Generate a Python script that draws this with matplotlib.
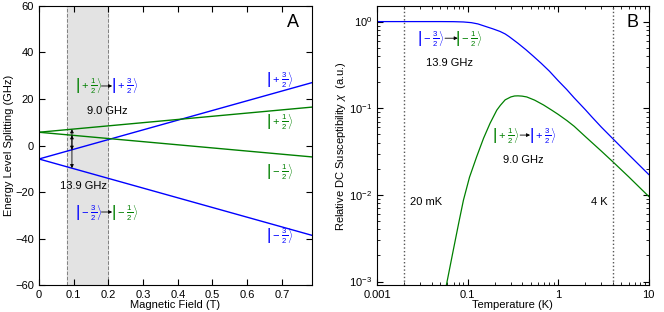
import numpy as np
import matplotlib
matplotlib.use("Agg")
import matplotlib.pyplot as plt

plt.rcParams['font.family'] = ['Liberation Sans', 'DejaVu Sans']
plt.rcParams['mathtext.fontset'] = 'custom'
plt.rcParams['mathtext.rm'] = 'Liberation Sans'
plt.rcParams['mathtext.it'] = 'Liberation Sans:italic'
plt.rcParams['mathtext.bf'] = 'Liberation Sans:bold'
plt.rcParams['font.size'] = 8

BLUE = '#0000ff'
GREEN = '#008000'

# panel A: Zeeman levels (straight lines, read at B=0 and right edge)
field = [0.0, 0.786]
level_p32 = [-5.8, 27.0]
level_p12 = [5.7, 16.5]
level_m12 = [5.7, -4.9]
level_m32 = [-5.8, -38.6]
shade_range = [0.08, 0.2]
arrow_field = 0.095

# panel B: relative susceptibility vs temperature
temp_blue = [0.01, 0.05, 0.07, 0.09, 0.11, 0.13, 0.16, 0.19, 0.228, 0.26, 0.288, 0.36,
             0.44, 0.53, 0.65, 0.8, 1.0, 1.24, 1.5, 2.0, 2.34, 3.0, 4.0, 6.0, 10.0]
chi_blue = [1.0, 1.0, 0.998, 0.99, 0.972, 0.94, 0.875, 0.825, 0.77, 0.72, 0.67, 0.562,
            0.474, 0.40, 0.33, 0.268, 0.208, 0.165, 0.132, 0.096, 0.080, 0.0605, 0.0447,
            0.0292, 0.0172]
temp_green = [0.057, 0.0588, 0.0695, 0.08, 0.09, 0.105, 0.126, 0.15, 0.177, 0.21, 0.23,
              0.26, 0.3, 0.33, 0.36, 0.4, 0.45, 0.55, 0.69, 0.85, 1.0, 1.25, 1.5, 2.0,
              3.0, 4.0, 6.0, 10.0]
chi_green = [0.0008, 0.00095, 0.0023, 0.0048, 0.0087, 0.016, 0.0276, 0.045, 0.067, 0.095,
             0.108, 0.125, 0.135, 0.1385, 0.139, 0.138, 0.135, 0.124, 0.109, 0.095,
             0.085, 0.072, 0.062, 0.047, 0.032, 0.0242, 0.0162, 0.0096]
marker_temps = [0.02, 4.0]
x_ticks_b = [0.01, 0.1, 1, 10]
x_ticklabels_b = ['0.001', '0.1', '1', '10']


def ket(sign, num):
    return r'$\left|' + sign + r'\,\frac{' + num + r'}{2}\right\rangle$'


def style_axes(ax):
    ax.tick_params(direction='in', which='both', top=True, right=True, labelsize=8)
    ax.tick_params(which='major', length=4)
    ax.tick_params(which='minor', length=2)
    for s in ax.spines.values():
        s.set_linewidth(0.8)


fig = plt.figure(figsize=(6.64, 3.12), dpi=100)
ax1 = fig.add_axes([0.0587, 0.0865, 0.4107, 0.8943])
ax2 = fig.add_axes([0.5678, 0.0865, 0.4092, 0.8943])

# ---- panel A ----
ax1.axvspan(shade_range[0], shade_range[1], color='#e3e3e3', zorder=0)
for xv in shade_range:
    ax1.axvline(xv, color='gray', ls='--', lw=0.7, zorder=1)
ax1.plot(field, level_p32, color=BLUE, lw=1)
ax1.plot(field, level_m32, color=BLUE, lw=1)
ax1.plot(field, level_p12, color=GREEN, lw=1)
ax1.plot(field, level_m12, color=GREEN, lw=1)

y_p12 = np.interp(arrow_field, field, level_p12)
y_p32 = np.interp(arrow_field, field, level_p32)
y_m12 = np.interp(arrow_field, field, level_m12)
y_m32 = np.interp(arrow_field, field, level_m32)
aprops = dict(arrowstyle='<|-|>', color='black', lw=0.6, mutation_scale=5,
              shrinkA=0, shrinkB=0)
ax1.annotate('', xy=(arrow_field, y_p12), xytext=(arrow_field, y_p32), arrowprops=aprops)
ax1.annotate('', xy=(arrow_field, y_m12), xytext=(arrow_field, y_m32), arrowprops=aprops)

sprops = dict(arrowstyle='-|>', color='black', lw=0.6, mutation_scale=5,
              shrinkA=0, shrinkB=0)
ax1.text(0.144, 25.6, ket('+', '1'), color=GREEN, ha='center', va='center', fontsize=8)
ax1.annotate('', xy=(0.211, 25.6), xytext=(0.18, 25.6), arrowprops=sprops)
ax1.text(0.248, 25.6, ket('+', '3'), color=BLUE, ha='center', va='center', fontsize=8)
ax1.text(0.196, 15.0, '9.0 GHz', ha='center', va='center', fontsize=8)
ax1.text(0.127, -17.3, '13.9 GHz', ha='center', va='center', fontsize=8)
ax1.text(0.144, -28.6, ket('-', '3'), color=BLUE, ha='center', va='center', fontsize=8)
ax1.annotate('', xy=(0.211, -28.6), xytext=(0.18, -28.6), arrowprops=sprops)
ax1.text(0.248, -28.6, ket('-', '1'), color=GREEN, ha='center', va='center', fontsize=8)

ax1.text(0.695, 28.2, ket('+', '3'), color=BLUE, ha='center', va='center', fontsize=8)
ax1.text(0.695, 10.2, ket('+', '1'), color=GREEN, ha='center', va='center', fontsize=8)
ax1.text(0.695, -11.3, ket('-', '1'), color=GREEN, ha='center', va='center', fontsize=8)
ax1.text(0.695, -38.9, ket('-', '3'), color=BLUE, ha='center', va='center', fontsize=8)
ax1.text(0.733, 52.8, 'A', ha='center', va='center', fontsize=13)

ax1.set_xlim(0, field[-1])
ax1.set_ylim(-60, 60)
ax1.set_xticks(np.arange(0, 0.75, 0.1))
ax1.set_xticklabels(['0', '0.1', '0.2', '0.3', '0.4', '0.5', '0.6', '0.7'])
ax1.set_yticks(np.arange(-60, 61, 20))
ax1.set_yticklabels(['\u221260', '\u221240', '\u221220', '0', '20', '40', '60'])
ax1.set_xlabel('Magnetic Field (T)', fontsize=8, labelpad=0)
ax1.set_ylabel('Energy Level Splitting (GHz)', fontsize=8, labelpad=1)
style_axes(ax1)

# ---- panel B ----
ax2.plot(temp_blue, chi_blue, color=BLUE, lw=0.9)
ax2.plot(temp_green, chi_green, color=GREEN, lw=0.9)
for tv in marker_temps:
    ax2.axvline(tv, color='#555555', ls=':', lw=1)
ax2.set_xscale('log')
ax2.set_yscale('log')
ax2.set_xlim(0.01, 10)
ax2.set_ylim(10 ** -3.04, 10 ** 0.18)
ax2.set_xticks(x_ticks_b)
ax2.set_xticklabels(x_ticklabels_b)
ax2.set_yticks([1e-3, 1e-2, 1e-1, 1])
ax2.set_yticklabels([r'$10^{-3}$', r'$10^{-2}$', r'$10^{-1}$', r'$10^{0}$'], fontsize=7)

ax2.text(0.0394, 0.643, ket('-', '3'), color=BLUE, ha='center', va='center', fontsize=8)
ax2.annotate('', xy=(0.078, 0.643), xytext=(0.0563, 0.643), arrowprops=sprops)
ax2.text(0.1035, 0.643, ket('-', '1'), color=GREEN, ha='center', va='center', fontsize=8)
ax2.text(0.0627, 0.33, '13.9 GHz', ha='center', va='center', fontsize=8)
ax2.text(0.265, 0.049, ket('+', '1'), color=GREEN, ha='center', va='center', fontsize=8)
ax2.annotate('', xy=(0.49, 0.049), xytext=(0.38, 0.049), arrowprops=sprops)
ax2.text(0.68, 0.049, ket('+', '3'), color=BLUE, ha='center', va='center', fontsize=8)
ax2.text(0.41, 0.0252, '9.0 GHz', ha='center', va='center', fontsize=8)
ax2.text(0.0231, 0.00834, '20 mK', ha='left', va='center', fontsize=8)
ax2.text(3.5, 0.00834, '4 K', ha='right', va='center', fontsize=8)
ax2.text(6.7, 0.97, 'B', ha='center', va='center', fontsize=13)

ax2.set_xlabel('Temperature (K)', fontsize=8, labelpad=0)
ax2.set_ylabel(r'Relative DC Susceptibility $\chi$  (a.u.)', fontsize=8, labelpad=1)
style_axes(ax2)

fig.savefig('out.png', dpi=100)
